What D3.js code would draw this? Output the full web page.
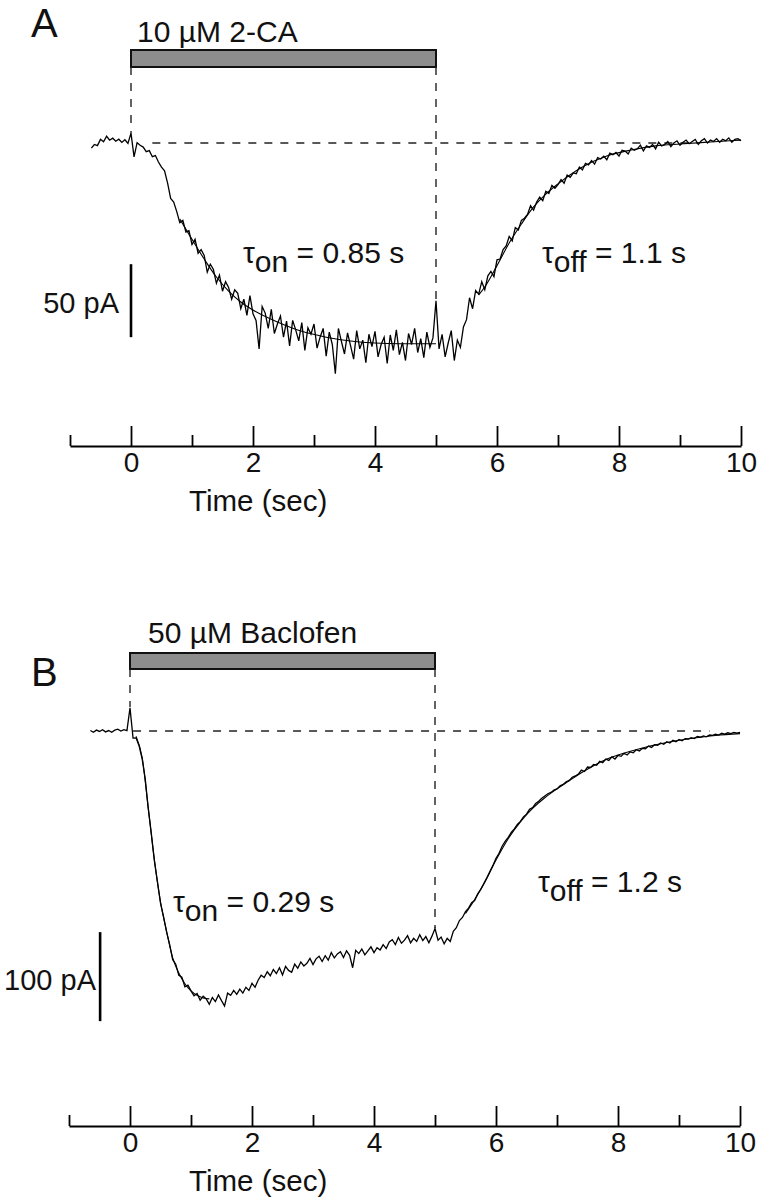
<!DOCTYPE html>
<html>
<head>
<meta charset="utf-8">
<script src="https://cdn.jsdelivr.net/npm/d3@7/dist/d3.min.js"></script>
<style>
  html, body { margin: 0; padding: 0; background: #fff; }
  svg { display: block; }
  text { font-family: "Liberation Sans", Arial, Helvetica, sans-serif; fill: #111; }
</style>
</head>
<body>
<svg id="chart" width="768" height="1200"></svg>
<script>
// ---------------- DATA ----------------
// sampling of the recorded traces (seconds)
const sampleStart = -0.65;
const sampleStep = 0.05;

// Panel A: current (pA) recorded with 10 µM 2-CA, one value per sample
const traceA = [
  -3.5, -1.0, -1.8, 2.5, 0.8, 4.6, 1.9, 3.3, 1.2, 2.6, 0.4, 2.2, -0.3, 6.8, -9.5, 0.2, -1.5, -2.8, -5.9, -5.2, -9.4, -8.6,
  -13.0, -16.5, -19.0, -27.5, -38.0, -40.5, -47.0, -54.5, -53.0, -61.0, -60.0, -69.5, -66.0, -75.5, -73.0, -77.0, -88.5, -83.0,
  -86.5, -96.0, -90.5, -101.5, -95.0, -99.0, -107.0, -100.5,
  -103.0, -113.5, -107.0, -118.0, -104.5, -117.0, -121.5, -141.0, -112.0, -116.5, -127.0, -114.0, -130.5, -124.0, -118.5, -133.0,
  -122.0, -139.0, -121.5, -128.0, -135.5, -123.0, -142.0, -126.5, -131.0, -124.0, -140.5, -133.0, -127.0, -146.0, -129.5, -138.0,
  -158.0, -127.0, -136.0, -144.5, -130.0, -139.0, -148.0, -128.5, -141.0, -135.0, -150.5, -131.0, -139.5, -129.0, -146.5, -138.0,
  -133.0, -151.0, -131.5, -142.0, -128.0, -145.0, -136.5, -149.0, -130.5, -138.0, -127.0, -143.5, -134.0, -147.0, -129.5, -140.0,
  -133.5, -108.0, -141.0, -131.0, -146.5, -137.0, -128.5, -149.0, -135.0, -140.0,
  -126.0, -121.0, -106.0, -113.5, -101.0, -103.5, -95.0, -100.5, -91.0, -88.0, -91.5, -80.0, -79.5, -73.0, -70.5, -64.0,
  -67.0, -58.0, -59.5, -53.0, -51.5, -49.0, -43.0, -46.0, -40.5, -37.0, -39.5, -33.0, -34.5, -29.0, -31.0, -28.5,
  -25.0, -27.5, -22.0, -23.5, -20.5, -21.0, -16.5,
  -18.5, -14.0, -15.0, -12.0, -14.5, -10.0, -11.0, -9.0, -11.5, -7.0, -8.0, -6.5, -9.0, -5.0, -5.5, -7.5, -3.5, -5.0, -4.0, -1.5,
  -5.5, -2.0, -3.0, -1.0, -4.0, 0.5, -2.0, -1.0, 1.0, -2.5, 0.0, 1.5, -1.5, 0.5, 2.0, -0.5, 1.0, 2.5, -1.0, 1.5,
  3.0, 0.0, 2.0, 1.0, 3.0, 0.5, 2.5, 1.5, 3.5, 0.5, 2.5, 3.0, 1.5
];
// Panel A exponential fits (time s, current pA)
const fitOnTimeA = [0.8, 1.0, 1.2, 1.4, 1.6, 1.8, 2.0, 2.4, 2.8, 3.2, 3.6, 4.0, 4.4, 4.8, 5.0];
const fitOnA = [-52, -66, -79.5, -91.8, -101.4, -108.9, -114.4, -122.6, -129, -133, -135.6, -137, -137.5, -137.5, -137.5];
const fitOffTimeA = [5.7, 5.8, 6.0, 6.2, 6.4, 6.6, 6.8, 7.0, 7.4, 7.8, 8.2, 8.6, 9.0, 9.5, 10.0];
const fitOffA = [-104, -98.6, -84, -68.5, -55.5, -43.8, -35, -28, -16.4, -8.9, -4.8, -2, -0.7, 0.7, 2];

// Panel B: current (pA) recorded with 50 µM Baclofen, one value per sample
const traceB = [
  0.5, -1.5, 1.0, -0.5, 1.5, -1.0, 0.5, -1.5, 1.0, 2.0, 0.0, 1.5, 0.5, 26.0, -8.0, -7.9, -16.9, -31.5, -54.0, -87.5,
  -115.5, -146.0, -169.5, -193.5, -208.5, -226.0, -240.0, -257.0, -262.0, -274.5, -276.5, -287.5, -285.5,
  -292.0, -297.5, -295.0, -302.5, -298.0, -301.0, -307.0, -299.5, -304.0, -296.5, -303.0, -309.0, -294.5, -297.0, -291.5, -296.0,
  -290.0, -294.5, -288.0, -291.5, -283.5, -288.0, -280.0, -274.5, -277.0, -270.5, -275.0, -268.0, -272.5, -266.0, -274.0, -264.5,
  -269.0, -271.0, -262.0, -266.5, -259.5, -264.0, -261.0, -255.5, -262.5, -256.0, -253.0, -259.0, -252.5, -257.5, -249.0, -255.0,
  -250.5, -248.0, -254.5, -247.0, -252.0, -266.0, -246.5, -250.0, -245.0, -251.5, -247.0, -242.5, -249.0, -243.5, -246.0, -240.0,
  -244.5, -237.0, -234.5, -240.0, -232.0, -238.5, -235.0, -230.0, -238.0, -233.0, -236.5, -229.0, -235.5, -231.0, -238.0, -230.5,
  -222.0, -235.0, -231.5, -239.0, -233.0, -236.5, -225.0, -221.0,
  -213.0, -209.5, -203.0, -199.0, -193.0, -190.5, -183.0, -178.0, -171.5, -165.0, -158.0, -151.0, -143.0, -137.5, -129.5, -124.0,
  -119.5, -114.0, -110.0, -105.0, -101.5, -96.5, -93.5, -88.0, -86.0, -81.5, -79.0, -75.5, -73.0, -70.5, -69.0, -66.5,
  -65.0, -61.5, -60.0, -57.0, -55.5, -52.0, -50.5,
  -48.5, -44.0, -45.5, -40.5, -41.0, -37.5, -38.5, -34.0, -35.5, -31.5, -33.0, -29.0, -31.5, -27.5, -28.5, -25.0, -27.0, -23.5,
  -24.5, -21.0, -22.5, -19.5, -20.0, -17.0, -18.5, -15.5, -16.0, -13.5, -15.0, -12.0, -13.5, -10.5, -12.0, -9.5, -11.0, -8.5,
  -9.0, -7.5, -8.5, -6.0, -7.0, -5.5, -6.5, -4.5, -5.0, -3.5, -4.5, -2.5, -3.5, -2.0, -3.0, -1.5, -2.5, -1.5
];
// Panel B exponential fits (time s, current pA)
const fitOnTimeB = [0.1, 0.2, 0.3, 0.4, 0.5, 0.6, 0.7, 0.8, 0.9, 1.0, 1.1, 1.2, 1.3];
const fitOnB = [-6, -30, -87, -145, -192, -225, -255, -272, -284, -292, -297, -300, -301];
const fitOffTimeB = [5.5, 5.6, 5.8, 6.0, 6.2, 6.4, 6.6, 6.8, 7.0, 7.2, 7.4, 7.6, 7.8, 8.0, 8.4, 8.8, 9.2, 9.6, 10.0];
const fitOffB = [-205, -195, -172, -145, -121, -102, -87, -75, -65, -56, -47, -39, -32, -27, -19, -13, -8.5, -5, -3];

// application periods (s)
const drugStart = 0;
const drugEnd = 5;
const drugLabels = ["10 \u00B5M 2-CA", "50 \u00B5M Baclofen"];
const panelLabels = ["A", "B"];
const tauOnLabels = ["0.85 s", "0.29 s"];
const tauOffLabels = ["1.1 s", "1.2 s"];
const scaleBarValues = [50, 100];
const scaleBarUnits = "pA";
const majorTicks = [0, 2, 4, 6, 8, 10];
const minorTicks = [-1, 1, 3, 5, 7, 9];
const timeDomain = [-1, 10];
const axisTitle = "Time (sec)";

// ---------------- DRAWING ----------------
const svg = d3.select("#chart");
const FONT = '"Liberation Sans", Arial, Helvetica, sans-serif';

function toPoints(times, values) { return values.map((v, i) => ({ t: times[i], v })); }
function sampled(values) { return values.map((v, i) => ({ t: sampleStart + i * sampleStep, v })); }

const panels = [
  {
    trace: traceA, fitOn: toPoints(fitOnTimeA, fitOnA), fitOff: toPoints(fitOffTimeA, fitOffA),
    x: d3.scaleLinear().domain(timeDomain).range([70, 741]),
    y: d3.scaleLinear().domain([0, -50]).range([143, 216]),
    axisY: 446, barTop: 50, barH: 17, labelBaseline: 42, labelX: 137,
    letterX: 31, letterBaseline: 37,
    vEnd0: 133, vEnd5: 300, baseFrom: 0.35, baseTo: 9.3,
    scaleBarT: 0, scaleBarTop: -83, scaleLabelX: 119, scaleLabelY: 313,
    tauOn: { x: 243, y: 263 }, tauOff: { x: 542, y: 263 },
    titleX: 189, titleY: 511
  },
  {
    trace: traceB, fitOn: toPoints(fitOnTimeB, fitOnB), fitOff: toPoints(fitOffTimeB, fitOffB),
    x: d3.scaleLinear().domain(timeDomain).range([69, 740]),
    y: d3.scaleLinear().domain([0, -100]).range([731, 820]),
    axisY: 1126, barTop: 653, barH: 16, labelBaseline: 643, labelX: 148,
    letterX: 31, letterBaseline: 686,
    vEnd0: 707, vEnd5: 928, baseFrom: 0.05, baseTo: 9.5,
    scaleBarT: -0.49, scaleBarTop: -226, scaleLabelX: 96, scaleLabelY: 990,
    tauOn: { x: 173, y: 912 }, tauOff: { x: 538, y: 892 },
    titleX: 189, titleY: 1191
  }
];

panels.forEach((p, k) => {
  const g = svg.append("g");
  const x = p.x, y = p.y;

  g.append("text").attr("x", p.letterX).attr("y", p.letterBaseline)
    .attr("font-size", 40).text(panelLabels[k]);

  g.append("text").attr("x", p.labelX).attr("y", p.labelBaseline)
    .attr("font-size", 30).text(drugLabels[k]);
  g.append("rect")
    .attr("x", x(drugStart)).attr("y", p.barTop)
    .attr("width", x(drugEnd) - x(drugStart)).attr("height", p.barH)
    .attr("fill", "#8d8d8d").attr("stroke", "#111").attr("stroke-width", 2);

  const dash = "8,8";
  g.append("line").attr("x1", x(drugStart)).attr("x2", x(drugStart))
    .attr("y1", p.barTop + p.barH).attr("y2", p.vEnd0)
    .attr("stroke", "#222").attr("stroke-width", 1.4).attr("stroke-dasharray", dash);
  g.append("line").attr("x1", x(drugEnd)).attr("x2", x(drugEnd))
    .attr("y1", p.barTop + p.barH).attr("y2", p.vEnd5)
    .attr("stroke", "#222").attr("stroke-width", 1.4).attr("stroke-dasharray", dash);
  g.append("line").attr("x1", x(p.baseFrom)).attr("x2", x(p.baseTo))
    .attr("y1", y(0)).attr("y2", y(0))
    .attr("stroke", "#222").attr("stroke-width", 1.4).attr("stroke-dasharray", dash);

  const line = d3.line().x(d => x(d.t)).y(d => y(d.v));
  g.append("path").datum(sampled(p.trace)).attr("d", line)
    .attr("fill", "none").attr("stroke", "#000").attr("stroke-width", 1.3)
    .attr("stroke-linejoin", "miter");
  const fitLine = d3.line().x(d => x(d.t)).y(d => y(d.v)).curve(d3.curveMonotoneX);
  [p.fitOn, p.fitOff].forEach(f => {
    g.append("path").datum(f).attr("d", fitLine)
      .attr("fill", "none").attr("stroke", "#000").attr("stroke-width", 1.1);
  });

  g.append("line").attr("x1", x(p.scaleBarT)).attr("x2", x(p.scaleBarT))
    .attr("y1", y(p.scaleBarTop)).attr("y2", y(p.scaleBarTop - scaleBarValues[k]))
    .attr("stroke", "#000").attr("stroke-width", 2.6);
  g.append("text").attr("x", p.scaleLabelX).attr("y", p.scaleLabelY)
    .attr("text-anchor", "end").attr("font-size", 29)
    .text(scaleBarValues[k] + " " + scaleBarUnits);

  function tau(pos, sub, val) {
    const t = g.append("text").attr("x", pos.x).attr("y", pos.y).attr("font-size", 30);
    t.append("tspan").text("\u03C4");
    t.append("tspan").attr("dy", 9).text(sub);
    t.append("tspan").attr("dy", -9).text(" = " + val);
  }
  tau(p.tauOn, "on", tauOnLabels[k]);
  tau(p.tauOff, "off", tauOffLabels[k]);

  const axMajor = d3.axisBottom(x).tickValues(majorTicks).tickFormat(d3.format("d"))
    .tickSizeInner(-20).tickSizeOuter(0).tickPadding(6);
  const axMinor = d3.axisBottom(x).tickValues(minorTicks).tickFormat("")
    .tickSizeInner(-11).tickSizeOuter(0);
  const ga = g.append("g").attr("transform", `translate(0,${p.axisY})`).call(axMajor);
  const gm = g.append("g").attr("transform", `translate(0,${p.axisY})`).call(axMinor);
  [ga, gm].forEach(a => {
    a.select(".domain").attr("stroke", "#000").attr("stroke-width", 2.2);
    a.selectAll(".tick line").attr("stroke", "#000").attr("stroke-width", 1.8);
    a.selectAll(".tick text").attr("font-family", FONT).attr("font-size", 28).attr("fill", "#111");
  });
  gm.select(".domain").remove();

  g.append("text").attr("x", p.titleX).attr("y", p.titleY)
    .attr("font-size", 29.5).text(axisTitle);
});
</script>
</body>
</html>
